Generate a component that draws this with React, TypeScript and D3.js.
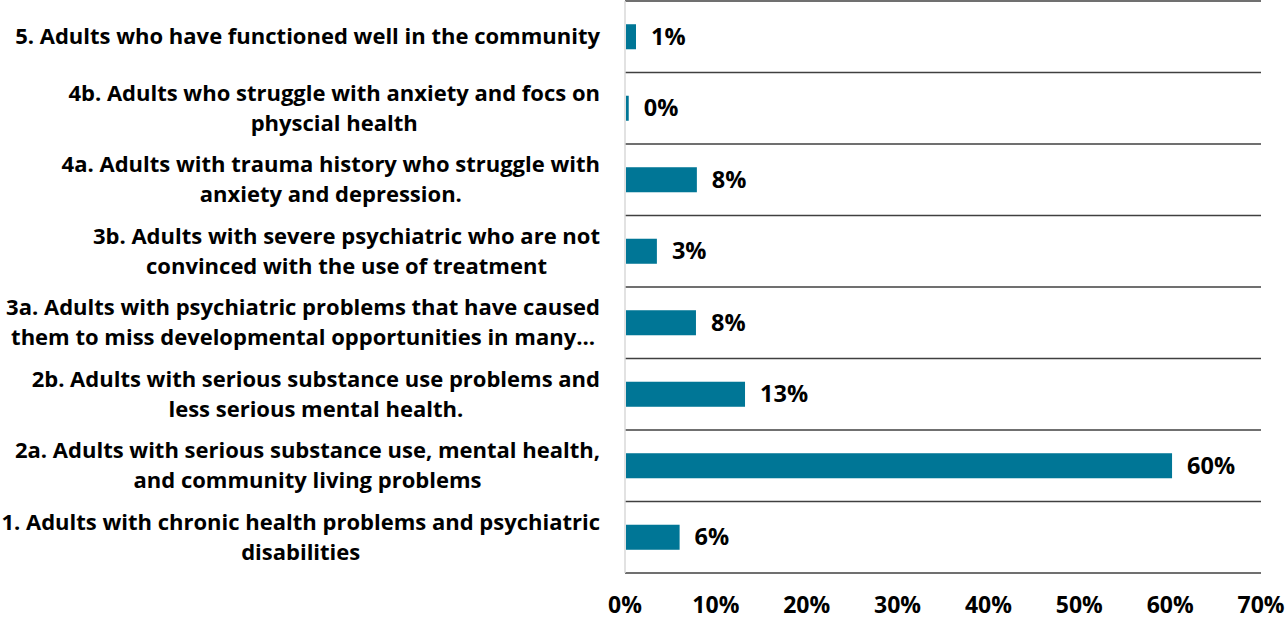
import React, { useEffect, useRef } from "react";
import * as d3 from "d3";

const categories: string[][] = [
  ["5. Adults who have functioned well in the community"],
  ["4b. Adults who struggle with anxiety and focs on", "physcial health"],
  ["4a. Adults with trauma history who struggle with", "anxiety and depression."],
  ["3b. Adults with severe psychiatric who are not", "convinced with the use of treatment"],
  ["3a. Adults with psychiatric problems that have caused", "them to miss developmental opportunities in many\u2026"],
  ["2b. Adults with serious substance use problems and", "less serious mental health."],
  ["2a. Adults with serious substance use, mental health,", "and community living problems"],
  ["1. Adults with chronic health problems and psychiatric", "disabilities"],
];
const values: number[] = [1.1, 0.3, 7.8, 3.4, 7.7, 13.1, 60.1, 5.9];
const xTicks: number[] = [0, 10, 20, 30, 40, 50, 60, 70];

const W = 1287;
const H = 622;
const FONT = "'Open Sans', sans-serif";

export default function App() {
  const ref = useRef<SVGSVGElement | null>(null);

  useEffect(() => {
    const svg = d3.select(ref.current);
    svg.selectAll("*").remove();

    const left = 625;
    const right = 1261;
    const top = 1;
    const bottom = 573;
    const labelRight = 600;

    const x = d3.scaleLinear().domain([0, 70]).range([left, right]);
    const y = d3
      .scaleBand<number>()
      .domain(d3.range(categories.length))
      .range([top, bottom])
      .paddingInner(0.65)
      .paddingOuter(0.325);
    const band = d3
      .scaleBand<number>()
      .domain(d3.range(categories.length))
      .range([top, bottom]);

    // separators
    const seps = d3.range(categories.length + 1).map((i) => top + i * band.step());
    svg
      .append("g")
      .selectAll("line")
      .data(seps)
      .join("line")
      .attr("x1", left)
      .attr("x2", right)
      .attr("y1", (d) => d)
      .attr("y2", (d) => d)
      .attr("stroke", "#404040")
      .attr("stroke-width", 1.5);

    // left axis line
    svg
      .append("line")
      .attr("x1", left)
      .attr("x2", left)
      .attr("y1", top)
      .attr("y2", bottom)
      .attr("stroke", "#d9d9d9")
      .attr("stroke-width", 1.5);

    // bars
    svg
      .append("g")
      .selectAll("rect")
      .data(values)
      .join("rect")
      .attr("x", x(0) + 1)
      .attr("y", (_d, i) => y(i)!)
      .attr("width", (d) => x(d) - x(0))
      .attr("height", y.bandwidth())
      .attr("fill", "#007696");

    // data labels
    svg
      .append("g")
      .selectAll("text")
      .data(values)
      .join("text")
      .attr("x", (d) => x(d) + 16)
      .attr("y", (_d, i) => band(i)! + band.bandwidth() / 2)
      .attr("dy", "0.35em")
      .attr("font-family", FONT)
      .attr("font-weight", 700)
      .attr("font-size", 23.5)
      .attr("fill", "#000")
      .text((d) => `${Math.round(d)}%`);

    // x tick labels
    svg
      .append("g")
      .selectAll("text")
      .data(xTicks)
      .join("text")
      .attr("x", (d) => x(d))
      .attr("y", 605)
      .attr("dy", "0.35em")
      .attr("text-anchor", "middle")
      .attr("font-family", FONT)
      .attr("font-weight", 700)
      .attr("font-size", 23)
      .attr("fill", "#000")
      .text((d) => `${d}%`);

    // category labels (centered block, right-aligned at labelRight)
    const lineH = 30;
    const catFont = 22;
    const g = svg.append("g");
    categories.forEach((lines, i) => {
      const cy = band(i)! + band.bandwidth() / 2;
      const grp = g.append("g");
      const texts = lines.map((ln, j) =>
        grp
          .append("text")
          .attr("y", cy + (j - (lines.length - 1) / 2) * lineH)
          .attr("dy", "0.35em")
          .attr("text-anchor", "middle")
          .attr("font-family", FONT)
          .attr("font-weight", 700)
          .attr("font-size", catFont)
          .attr("fill", "#000")
          .text(ln)
      );
      const maxW = d3.max(texts, (t) => (t.node() as SVGTextElement).getComputedTextLength()) || 0;
      texts.forEach((t) => t.attr("x", labelRight - maxW / 2));
    });
  }, []);

  return (
    <svg
      ref={ref}
      width={W}
      height={H}
      style={{ position: "absolute", left: 0, top: 0, background: "#fff" }}
    />
  );
}
